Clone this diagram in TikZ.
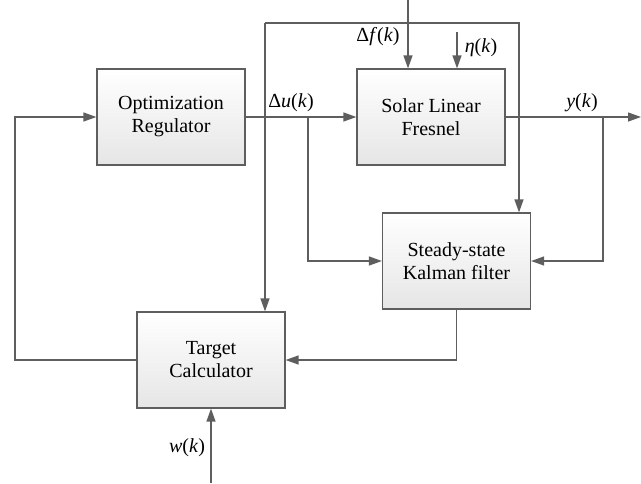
\documentclass[tikz,border=0pt]{standalone}
\usepackage{fontspec}
\setmainfont{Liberation Serif}
\usetikzlibrary{arrows.meta,calc}
\definecolor{ln}{HTML}{5E5E5E}
\newcommand\mvar[1]{\textit{#1}}
\begin{document}
\begin{tikzpicture}[x=1pt,y=-1pt,
  box/.style={draw=ln,line width=1.2pt,top color=white,bottom color=gray!20,minimum width=148pt,minimum height=96pt,align=center,font=\fontsize{20}{23}\selectfont,inner sep=0pt},
  conn/.style={draw=ln,line width=1.3pt},
  arr/.style={conn,-{Triangle[length=13pt,width=9pt]}},
  lbl/.style={font=\fontsize{20}{23}\selectfont,inner sep=0pt,anchor=base}]
\useasboundingbox (0,0) rectangle (641,483);
\node[box] (opt) at (171,117) {Optimization\\Regulator};
\node[box] (sol) at (431,117) {Solar Linear\\Fresnel};
\node[box] (kal) at (456.5,261) {Steady-state\\Kalman filter};
\node[box] (tgt) at (211,360) {Target\\Calculator};
% coordinates
\coordinate (bu) at (308,117);
\coordinate (by) at (603,117);
\coordinate (out) at (641,117);
\coordinate (fl) at (265,23);
\coordinate (fr) at (519,23);
\coordinate (df) at (408,0);
\coordinate (eta) at (457,32);
\coordinate (lf) at (15,360);
\coordinate (w) at (211,483);
% connectors
\draw[arr] (opt.east) -- (sol.west);
\draw[arr] (bu) |- (kal.west);
\draw[arr] (sol.east) -- (out);
\draw[arr] (by) |- (kal.east);
\draw[arr] (fl) -- (fl |- tgt.north);
\draw[arr] (fl) -- (fr) -- (fr |- kal.north);
\draw[arr] (df) -- (df |- sol.north);
\draw[arr] (eta) -- (eta |- sol.north);
\draw[arr] (kal.south) |- (tgt.east);
\draw[arr] (tgt.west) -- (lf) |- (opt.west);
\draw[arr] (w) -- (tgt.south);
% labels
\node[lbl] (lu) at (291,107) {Δ\mvar{u}(\mvar{k})};
\node[lbl] (ly) at (582,107) {\mvar{y}(\mvar{k})};
\node[lbl] (lf2) at (378,41) {Δ\mvar{f}(\mvar{k})};
\node[lbl] (le) at (481,52) {\mvar{η}(\mvar{k})};
\node[lbl] (lw) at (187,452) {\mvar{w}(\mvar{k})};
\end{tikzpicture}
\end{document}
